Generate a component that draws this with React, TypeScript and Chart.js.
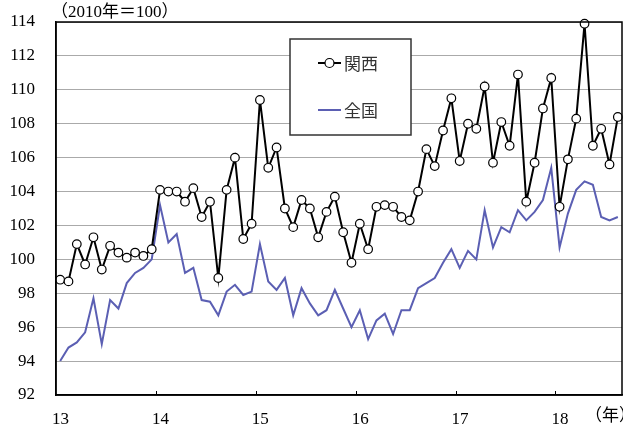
import { useEffect, useRef } from "react";
import { Chart, registerables } from "chart.js";

Chart.register(...registerables);

// Year labels placed at each January boundary (monthly data, Jan 2013 – Aug 2018)
const yearLabels = ["13", "14", "15", "16", "17", "18"];
const yearUnit = "（年）";
const unitNote = "（2010年＝100）";

const yMin = 92;
const yMax = 114;
const yStep = 2;

const seriesNames = ["関西", "全国"];

// 関西 (Kansai), monthly index
const kansai = [
  98.8, 98.7, 100.9, 99.7, 101.3, 99.4, 100.8, 100.4, 100.1, 100.4, 100.2, 100.6,
  104.1, 104.0, 104.0, 103.4, 104.2, 102.5, 103.4, 98.9, 104.1, 106.0, 101.2, 102.1,
  109.4, 105.4, 106.6, 103.0, 101.9, 103.5, 103.0, 101.3, 102.8, 103.7, 101.6, 99.8,
  102.1, 100.6, 103.1, 103.2, 103.1, 102.5, 102.3, 104.0, 106.5, 105.5, 107.6, 109.5,
  105.8, 108.0, 107.7, 110.2, 105.7, 108.1, 106.7, 110.9, 103.4, 105.7, 108.9, 110.7,
  103.1, 105.9, 108.3, 113.9, 106.7, 107.7, 105.6, 108.4,
];

// 全国 (nationwide), monthly index
const zenkoku = [
  94.0, 94.8, 95.1, 95.7, 97.7, 95.0, 97.6, 97.1, 98.6, 99.2, 99.5, 100.0,
  103.2, 101.0, 101.5, 99.2, 99.5, 97.6, 97.5, 96.7, 98.1, 98.5, 97.9, 98.1,
  100.9, 98.7, 98.2, 98.9, 96.7, 98.3, 97.4, 96.7, 97.0, 98.2, 97.1, 96.0,
  97.0, 95.3, 96.4, 96.8, 95.6, 97.0, 97.0, 98.3, 98.6, 98.9, 99.8, 100.6,
  99.5, 100.5, 100.0, 102.9, 100.7, 101.9, 101.6, 102.9, 102.3, 102.8, 103.5, 105.4,
  100.7, 102.7, 104.1, 104.6, 104.4, 102.5, 102.3, 102.5,
];

const KANSAI_COLOR = "#000000";
const ZENKOKU_COLOR = "#5b5fb3";
const FONT_FAMILY = "'Liberation Serif', 'Times New Roman', 'Noto Sans CJK JP', serif";
const CJK_FAMILY = "'Noto Sans CJK JP', sans-serif";

const monthsTotal = kansai.length;

const decorations = {
  id: "decorations",
  afterDraw(chart: any) {
    const { ctx, chartArea: a, scales } = chart;
    const xs = scales.x;
    ctx.save();

    // plot frame
    ctx.strokeStyle = "#000";
    ctx.lineWidth = 1.5;
    ctx.strokeRect(a.left, a.top, a.right - a.left, a.bottom - a.top);

    // inward year tick marks
    ctx.lineWidth = 1;
    for (let i = 1; i < yearLabels.length; i++) {
      const px = Math.round(xs.getPixelForValue(i * 12)) + 0.5;
      ctx.beginPath();
      ctx.moveTo(px, a.bottom);
      ctx.lineTo(px, a.bottom - 4);
      ctx.stroke();
    }

    // unit notes
    ctx.fillStyle = "#000";
    ctx.textAlign = "left";
    ctx.textBaseline = "middle";
    ctx.font = `17px ${FONT_FAMILY}`;
    ctx.fillText(unitNote, 51, 13);
    ctx.fillText(yearUnit, 585, 417);

    // legend box
    const bx = 290, by = 39, bw = 121, bh = 96;
    ctx.fillStyle = "#fff";
    ctx.fillRect(bx, by, bw, bh);
    ctx.strokeStyle = "#333";
    ctx.lineWidth = 1.5;
    ctx.strokeRect(bx, by, bw, bh);

    const rows = [63, 110];
    // 関西 row: line with hollow circle marker
    ctx.strokeStyle = KANSAI_COLOR;
    ctx.lineWidth = 2;
    ctx.beginPath();
    ctx.moveTo(318, rows[0]);
    ctx.lineTo(341, rows[0]);
    ctx.stroke();
    ctx.beginPath();
    ctx.arc(329.5, rows[0], 4.5, 0, Math.PI * 2);
    ctx.fillStyle = "#fff";
    ctx.fill();
    ctx.lineWidth = 1.2;
    ctx.stroke();
    // 全国 row: plain line
    ctx.strokeStyle = ZENKOKU_COLOR;
    ctx.lineWidth = 2;
    ctx.beginPath();
    ctx.moveTo(318, rows[1]);
    ctx.lineTo(341, rows[1]);
    ctx.stroke();

    ctx.fillStyle = "#333";
    ctx.font = `17px ${CJK_FAMILY}`;
    ctx.fillText(seriesNames[0], 344, rows[0] + 1);
    ctx.fillText(seriesNames[1], 344, rows[1] + 1);

    ctx.restore();
  },
};

export default function App() {
  const canvasRef = useRef<HTMLCanvasElement | null>(null);

  useEffect(() => {
    if (!canvasRef.current) return;
    const tickFont = { family: FONT_FAMILY, size: 17 };
    const chart = new Chart(canvasRef.current, {
      type: "line",
      data: {
        datasets: [
          {
            label: seriesNames[0],
            data: kansai.map((v, i) => ({ x: i + 0.5, y: v })),
            borderColor: KANSAI_COLOR,
            borderWidth: 2,
            pointRadius: 4.3,
            pointBackgroundColor: "#fff",
            pointBorderColor: KANSAI_COLOR,
            pointBorderWidth: 1.2,
            tension: 0,
            clip: false,
          },
          {
            label: seriesNames[1],
            data: zenkoku.map((v, i) => ({ x: i + 0.5, y: v })),
            borderColor: ZENKOKU_COLOR,
            borderWidth: 2,
            pointRadius: 0,
            tension: 0,
            clip: false,
          },
        ],
      },
      options: {
        responsive: true,
        maintainAspectRatio: false,
        animation: false,
        layout: { autoPadding: false, padding: { top: 22, right: 1, left: 0, bottom: 0 } },
        plugins: {
          legend: { display: false },
          tooltip: { enabled: false },
        },
        scales: {
          x: {
            type: "linear",
            min: 0,
            max: monthsTotal,
            afterFit: (s: any) => {
              s.height = 33;
              s.paddingLeft = 0;
              s.paddingRight = 0;
            },
            afterBuildTicks: (s: any) => {
              s.ticks = yearLabels.map((_, i) => ({ value: i * 12 }));
            },
            ticks: {
              callback: (v: any) => yearLabels[Math.round(Number(v) / 12)] ?? "",
              font: tickFont,
              color: "#000",
              padding: 14,
              labelOffset: 4.5,
              maxRotation: 0,
              autoSkip: false,
            },
            grid: { display: false, drawTicks: false },
            border: { display: true, color: "#000", width: 1.5 },
          },
          y: {
            min: yMin,
            max: yMax,
            afterFit: (s: any) => {
              s.width = 56;
              s.paddingTop = 0;
              s.paddingBottom = 0;
            },
            ticks: {
              stepSize: yStep,
              font: tickFont,
              color: "#000",
              padding: 21,
            },
            grid: { color: "#555", lineWidth: 1, drawTicks: false },
            border: { display: true, color: "#000", width: 1.5, dash: [1, 1] },
          },
        },
      },
      plugins: [decorations],
    });
    return () => chart.destroy();
  }, []);

  return (
    <div style={{ position: "absolute", left: 0, top: 0, width: 623, height: 428, background: "#fff" }}>
      <canvas ref={canvasRef} />
    </div>
  );
}
